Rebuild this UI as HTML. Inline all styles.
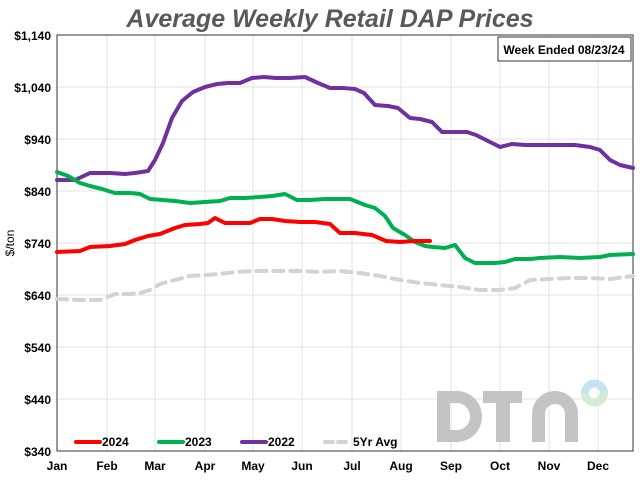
<!DOCTYPE html>
<html><head><style>
body{margin:0;background:#fff;}
svg{display:block;font-family:"Liberation Sans",Arial,sans-serif;font-weight:bold;}
</style></head><body>
<svg width="640" height="480" xmlns="http://www.w3.org/2000/svg">
<rect width="640" height="480" fill="#fff"/>
<text x="330" y="27" text-anchor="middle" font-size="25" font-style="italic" fill="#595959">Average Weekly Retail DAP Prices</text>
<g stroke="#e3e3e3" stroke-width="1">
<line x1="57" y1="87" x2="633" y2="87"/><line x1="57" y1="139" x2="633" y2="139"/><line x1="57" y1="191" x2="633" y2="191"/><line x1="57" y1="243" x2="633" y2="243"/><line x1="57" y1="295" x2="633" y2="295"/><line x1="57" y1="347" x2="633" y2="347"/><line x1="57" y1="399" x2="633" y2="399"/>
<line x1="107" y1="35" x2="107" y2="451"/><line x1="155" y1="35" x2="155" y2="451"/><line x1="205" y1="35" x2="205" y2="451"/><line x1="253" y1="35" x2="253" y2="451"/><line x1="302" y1="35" x2="302" y2="451"/><line x1="352" y1="35" x2="352" y2="451"/><line x1="401" y1="35" x2="401" y2="451"/><line x1="451" y1="35" x2="451" y2="451"/><line x1="500" y1="35" x2="500" y2="451"/><line x1="549" y1="35" x2="549" y2="451"/><line x1="598" y1="35" x2="598" y2="451"/>
</g>
<g fill="#c4c4c4">
<path d="M437 391 h20 a25 25.5 0 0 1 0 51 h-20 z M450 403 v27 h7 a13 13.5 0 0 0 0 -27 z" fill-rule="evenodd"/>
<rect x="483" y="391" width="39" height="12"/><rect x="496" y="391" width="14" height="51"/>
<path d="M532 442 v-28 a23 23 0 0 1 46 0 v28 h-13 v-28 a10 10 0 0 0 -20 0 v28 z"/>
</g>
<path d="M585 393 a9.5 9.5 0 0 1 19 0" fill="none" stroke="#c6e3f3" stroke-width="8"/>
<path d="M585 393 a9.5 9.5 0 0 0 19 0" fill="none" stroke="#d3ebd1" stroke-width="8"/>
<rect x="57" y="35" width="576" height="416" fill="none" stroke="#333" stroke-width="1"/>
<g font-size="12" fill="#000" text-anchor="end">
<text x="51" y="40">$1,140</text><text x="51" y="92">$1,040</text><text x="51" y="144">$940</text><text x="51" y="196">$840</text><text x="51" y="248">$740</text><text x="51" y="300">$640</text><text x="51" y="352">$540</text><text x="51" y="404">$440</text><text x="51" y="456">$340</text>
</g>
<text x="14" y="243" font-size="12" text-anchor="middle" transform="rotate(-90 14 243)" font-weight="normal">$/ton</text>
<g font-size="12" text-anchor="middle">
<text x="57" y="470">Jan</text><text x="107" y="470">Feb</text><text x="155" y="470">Mar</text><text x="205" y="470">Apr</text><text x="253" y="470">May</text><text x="302" y="470">Jun</text><text x="352" y="470">Jul</text><text x="401" y="470">Aug</text><text x="451" y="470">Sep</text><text x="500" y="470">Oct</text><text x="549" y="470">Nov</text><text x="598" y="470">Dec</text>
</g>
<rect x="498" y="37" width="133" height="24" fill="#fff" stroke="#333"/>
<text x="564" y="54" font-size="12" text-anchor="middle">Week Ended 08/23/24</text>
<g fill="none" stroke-linejoin="round" stroke-linecap="round">
<polyline stroke="#d3d3d3" stroke-width="4" stroke-dasharray="10,7" points="57,299 80,300 100,300 115,294 130,294 140,293 150,290 160,284 175,280 190,276 205,275 220,274 235,272 255,271 275,271 300,271 320,272 340,271 360,273 380,276 400,280 420,283 440,285 460,287 480,290 500,290 515,288 530,280 550,279 570,278 590,278 610,279 633,276"/>
<polyline stroke="#7030a0" stroke-width="4" points="57,180 75,180 90,173 110,173 125,174 135,173 148,171 155,160 163,143 172,118 182,101 193,92 205,87 217,84 228,83 240,83 252,78 264,77 276,78 290,78 305,77 318,83 330,88 343,88 355,89 364,93 375,105 388,106 398,108 410,118 420,119 432,122 442,132 455,132 467,132 476,135 488,141 500,147 512,144 525,145 550,145 575,145 590,147 600,150 610,160 620,165 633,168"/>
<polyline stroke="#00b050" stroke-width="4" points="57,172 68,176 80,183 90,186 102,189 115,193 130,193 140,194 150,199 163,200 175,201 190,203 205,202 220,201 230,198 245,198 260,197 272,196 285,194 297,200 310,200 325,199 340,199 350,199 365,205 375,208 385,216 393,228 405,235 415,242 425,246 433,247 445,248 455,245 465,258 475,263 495,263 505,262 515,259 530,259 540,258 560,257 580,258 600,257 610,255 633,254"/>
<polyline stroke="#ff0000" stroke-width="4" points="57,252 80,251 90,247 110,246 125,244 135,240 148,236 160,234 175,228 185,225 200,224 208,223 215,218 225,223 240,223 250,223 260,219 272,219 285,221 300,222 315,222 330,224 340,233 355,233 372,235 386,241 400,242 415,241 430,241"/>
</g>
<g font-size="12">
<line x1="76" y1="442" x2="100" y2="442" stroke="#ff0000" stroke-width="4" stroke-linecap="round"/><text x="102" y="446">2024</text>
<line x1="159" y1="442" x2="183" y2="442" stroke="#00b050" stroke-width="4" stroke-linecap="round"/><text x="185" y="446">2023</text>
<line x1="242" y1="442" x2="266" y2="442" stroke="#7030a0" stroke-width="4" stroke-linecap="round"/><text x="268" y="446">2022</text>
<line x1="325" y1="442" x2="351" y2="442" stroke="#d3d3d3" stroke-width="4" stroke-dasharray="8,5" stroke-linecap="round"/><text x="353" y="446">5Yr Avg</text>
</g>
</svg>
</body></html>
